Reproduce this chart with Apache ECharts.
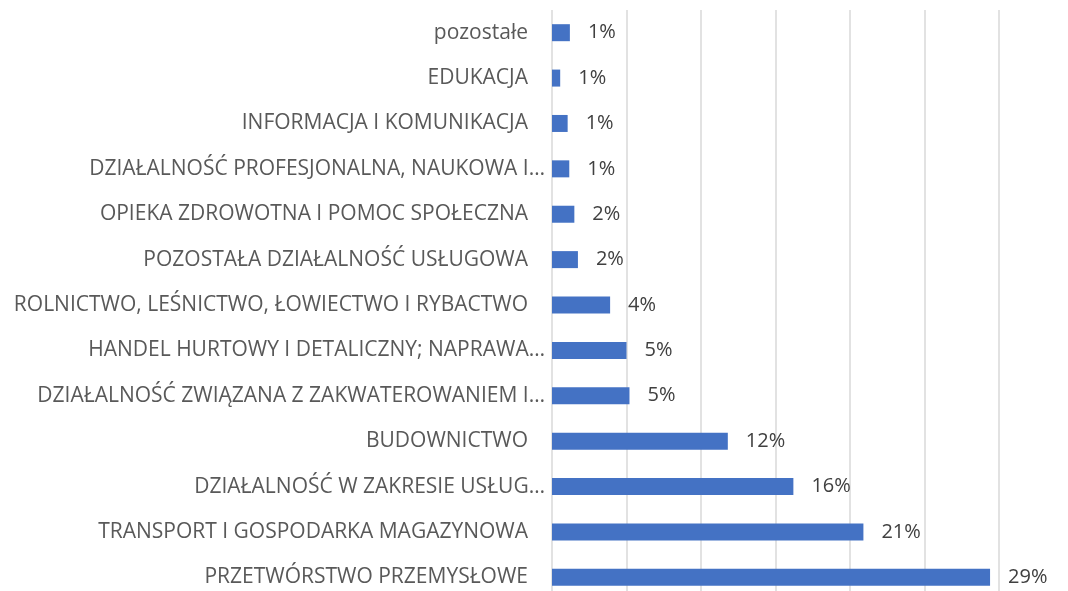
<!DOCTYPE html>
<html>
<head>
<meta charset="utf-8">
<script src="https://cdn.jsdelivr.net/npm/echarts@6/dist/echarts.min.js"></script>
<style>
  html, body { margin: 0; padding: 0; background: #fff; overflow: hidden; }
  #chart { width: 1068px; height: 591px; }
</style>
</head>
<body>
<div id="chart"></div>
<script>
// categories bottom -> top (ECharts category axis starts at the bottom)
const categories = [
  'PRZETWÓRSTWO PRZEMYSŁOWE',
  'TRANSPORT I GOSPODARKA MAGAZYNOWA',
  'DZIAŁALNOŚĆ W ZAKRESIE USŁUG…',
  'BUDOWNICTWO',
  'DZIAŁALNOŚĆ ZWIĄZANA Z ZAKWATEROWANIEM I…',
  'HANDEL HURTOWY I DETALICZNY; NAPRAWA…',
  'ROLNICTWO, LEŚNICTWO, ŁOWIECTWO I RYBACTWO',
  'POZOSTAŁA DZIAŁALNOŚĆ USŁUGOWA',
  'OPIEKA ZDROWOTNA I POMOC SPOŁECZNA',
  'DZIAŁALNOŚĆ PROFESJONALNA, NAUKOWA I…',
  'INFORMACJA I KOMUNIKACJA',
  'EDUKACJA',
  'pozostałe'
];
const shares = [29.4, 20.9, 16.2, 11.8, 5.2, 5.0, 3.9, 1.74, 1.5, 1.16, 1.05, 0.55, 1.2];

const chart = echarts.init(document.getElementById('chart'));
chart.setOption({
  animation: false,
  grid: { left: 552, top: 10, width: 447, height: 590, outerBoundsMode: 'none', containLabel: false },
  xAxis: {
    type: 'value',
    min: 0,
    max: 30,
    interval: 5,
    axisLabel: { show: false },
    axisLine: { show: false },
    axisTick: { show: false },
    splitLine: { lineStyle: { color: '#d9d9d9', width: 1.5 } }
  },
  yAxis: {
    type: 'category',
    data: categories,
    axisLine: { show: false },
    axisTick: { show: false },
    axisLabel: {
      margin: 7,
      fontFamily: 'Open Sans',
      fontSize: 21,
      color: '#595959',
      formatter: v => v.endsWith('…') ? '{e|' + v + '}' : '{f|' + v + '}',
      rich: {
        f: { fontFamily: 'Open Sans', fontSize: 21, color: '#595959', padding: [0, 17, 0, 0] },
        e: { fontFamily: 'Open Sans', fontSize: 21, color: '#595959' }
      }
    }
  },
  series: [{
    type: 'bar',
    data: shares,
    barWidth: 17,
    itemStyle: { color: '#4472c4' },
    label: {
      show: true,
      position: 'right',
      distance: 18,
      fontFamily: 'Open Sans',
      fontSize: 20,
      color: '#404040',
      formatter: p => Math.round(p.value) + '%'
    }
  }]
});
</script>
</body>
</html>
